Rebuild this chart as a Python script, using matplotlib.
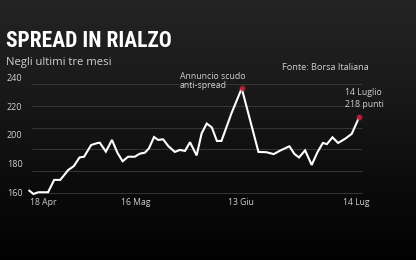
import matplotlib
matplotlib.use("Agg")
import matplotlib.pyplot as plt
import numpy as np

# trading sessions since the start of the window, and BTP-Bund spread (bp)
sessions = [0, 0.8, 1.8, 3.7, 4.9, 6.1, 7.7, 8.8, 9.9, 10.8, 12.2, 13.3, 13.9,
            15.1, 16.3, 17.4, 18.4, 19.5, 20.8, 21.8, 22.8, 23.6, 24.6, 25.4,
            26.4, 27.4, 28.7, 29.7, 30.7, 31.7, 33.0, 34.0, 35.0, 36.0, 37.0,
            37.9, 39.9, 41.9, 45.2, 46.8, 48.2, 49.4, 51.3, 52.3, 53.2, 54.4,
            55.7, 56.8, 57.9, 58.7, 59.8, 60.9, 62.3, 63.6, 65.1]
spread = [161.6, 159.3, 160.5, 160.5, 169.0, 169.0, 175.9, 178.6, 184.5, 185.0,
          193.1, 194.3, 194.7, 188.5, 196.6, 187.6, 181.9, 185.0, 185.0, 187.1,
          187.8, 190.8, 198.6, 196.6, 197.0, 192.4, 188.3, 189.7, 189.0, 195.0,
          185.9, 201.2, 207.9, 205.2, 195.9, 195.9, 215.2, 232.2, 188.3, 188.1,
          186.8, 189.1, 192.2, 186.9, 184.5, 189.4, 179.3, 187.9, 194.5, 193.7,
          198.4, 194.5, 197.4, 200.8, 212.6]

tick_pos = [2.7, 21.0, 41.8, 64.4]
tick_labels = ["18 Apr", "16 Mag", "13 Giu", "14 Lug"]
ytick_vals = [160, 180, 200, 220, 240]
grid_vals = [160, 175, 190, 205, 220, 235]

FONT = "Open Sans"
TXT = "#d0d0d0"
RED = "#b8213a"

fig = plt.figure(figsize=(4.16, 2.6), dpi=100)

# dark vertical gradient background (black at the bottom)
bg = fig.add_axes([0, 0, 1, 1], zorder=-10)
grad = np.linspace(0, 1, 256).reshape(-1, 1)
bg.imshow(grad, aspect="auto", extent=[0, 1, 0, 1], origin="lower",
          cmap=matplotlib.colors.LinearSegmentedColormap.from_list(
              "bg", ["#020202", "#0d0d0d", "#1a1a1a", "#242424"]))
bg.set_axis_off()

ax = fig.add_axes([25 / 416, 1 - 196 / 260, 345 / 416, 121 / 260])
ax.patch.set_alpha(0)
ax.set_xlim(-0.85, 67.2)
ax.set_ylim(157.9, 241.4)

ax.hlines(grid_vals, 0.47, 65.6, color="#363636", lw=0.7, zorder=1)
ax.plot(sessions, spread, color="white", lw=1.5, zorder=3, clip_on=False,
        solid_joinstyle="miter")

i_peak = int(np.argmax(spread))
for i in (i_peak, len(spread) - 1):
    ax.scatter(sessions[i], spread[i], s=26, color=RED, alpha=0.35, lw=0,
               zorder=4, clip_on=False)
    ax.scatter(sessions[i], spread[i], s=11, color=RED, lw=0, zorder=5,
               clip_on=False)

ax.set_yticks(ytick_vals)
ax.set_yticklabels([str(v) for v in ytick_vals], fontsize=6.5, color=TXT,
                   family=FONT)
for lab in ax.get_yticklabels():
    lab.set_horizontalalignment("left")
ax.tick_params(axis="y", length=0, pad=13)

ax.set_xticks(tick_pos)
ax.set_xticklabels(tick_labels, fontsize=6.2, color=TXT, family=FONT)
ax.tick_params(axis="x", length=0, pad=1.5)

for s in ax.spines.values():
    s.set_visible(False)

# annotations
ax.text(29.7, 237.1, "Annuncio scudo\nanti-spread", fontsize=6.3, color=TXT,
        family=FONT, ha="left", va="center", linespacing=1.05)
ax.text(62.3, 225.2, "14 Luglio\n218 punti", fontsize=6.3, color=TXT,
        family=FONT, ha="left", va="center", linespacing=1.45)

# titles
fig.text(6 / 416, 1 - 41 / 260, "SPREAD IN RIALZO", fontsize=15.5,
         color="white", fontweight="bold",
         family=["Roboto Condensed", "Liberation Sans Narrow", "DejaVu Sans"],
         fontstretch="condensed", ha="left", va="center")
fig.text(6 / 416, 1 - 62 / 260, "Negli ultimi tre mesi", fontsize=8.1,
         color=TXT, family=FONT, ha="left", va="center")
fig.text(282 / 416, 1 - 67 / 260, "Fonte: Borsa Italiana", fontsize=6.6,
         color=TXT, family=FONT, ha="left", va="center")

fig.savefig("out.png", dpi=100)
